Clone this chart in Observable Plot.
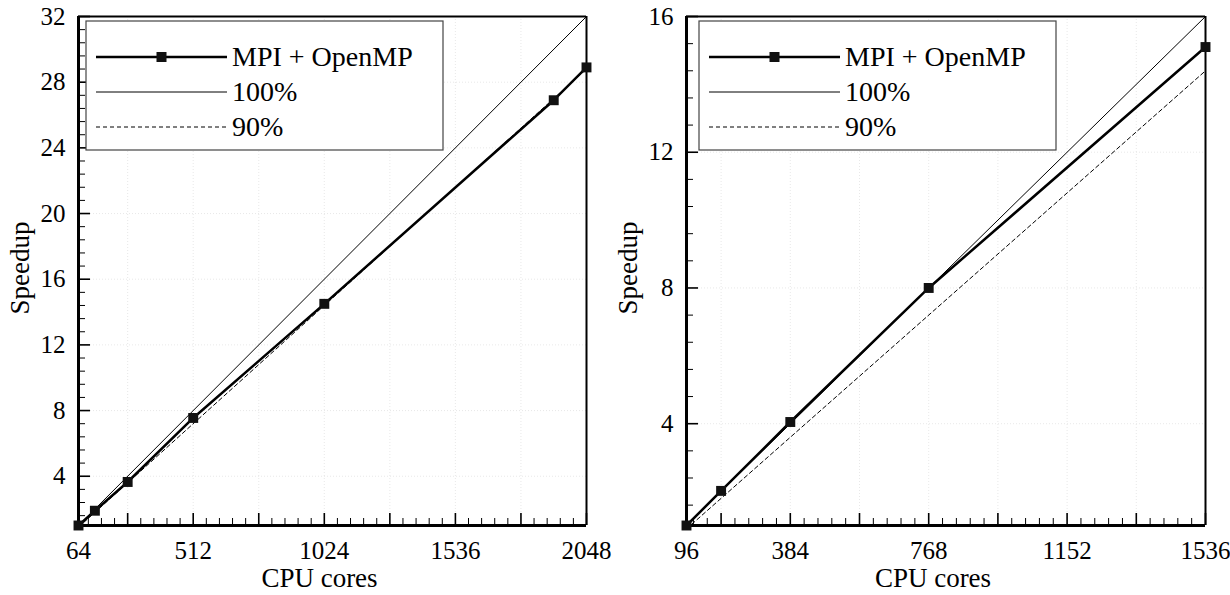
<!DOCTYPE html>
<html>
<head>
<meta charset="utf-8">
<script src="https://cdn.jsdelivr.net/npm/d3@7"></script>
<script src="https://cdn.jsdelivr.net/npm/@observablehq/plot@0.6"></script>
<style>
  html, body { margin: 0; padding: 0; background: #fff; }
  #wrap { display: flex; width: 1230px; height: 595px; }
  #wrap svg, #wrap svg text { font-family: "Liberation Serif", "Times New Roman", serif !important; }
</style>
</head>
<body>
<div id="wrap"></div>
<script>
// ---------- data ----------
const leftCores = [64, 128, 256, 512, 1024, 1920, 2048];
const leftSpeedup = [1, 1.9, 3.65, 7.55, 14.5, 26.9, 28.9];
const leftIdealCores = [64, 2048];
const leftIdeal100 = [1, 32];
const leftIdeal90 = [0.9, 28.8];
const leftXTicks = [256, 512, 768, 1024, 1280, 1536, 1792, 2048];
const leftXLabels = [64, 512, 1024, 1536, 2048];
const leftYTicks = [4, 8, 12, 16, 20, 24, 28, 32];

const rightCores = [96, 192, 384, 768, 1536];
const rightSpeedup = [1, 2.02, 4.05, 8, 15.1];
const rightIdealCores = [96, 1536];
const rightIdeal100 = [1, 16];
const rightIdeal90 = [0.9, 14.4];
const rightXTicks = [192, 384, 576, 768, 960, 1152, 1344, 1536];
const rightXLabels = [96, 384, 768, 1152, 1536];
const rightYTicks = [4, 8, 12, 16];

const legendLabels = ["MPI + OpenMP", "100%", "90%"];
const xTitle = "CPU cores";
const yTitle = "Speedup";

const FONT = "'Liberation Serif', 'Times New Roman', serif";

function minorTicks(step, lo, hi) {
  const out = [];
  for (let i = 1; i * step / 5 < hi + 1e-9; i++) {
    if (i % 5 === 0) continue;
    const v = i * step / 5;
    if (v > lo + 1e-9) out.push(v);
  }
  return out;
}

function panel(cfg) {
  const W = 615, H = 595, mt = 16, mb = 70;
  const innerW = W - cfg.ml - cfg.mr, innerH = H - mt - mb;
  const [x0, x1] = cfg.xDomain, [y0, y1] = cfg.yDomain;
  const series = cfg.cores.map((c, i) => ({c, s: cfg.speedup[i]}));
  const i100 = cfg.idealCores.map((c, i) => ({c, s: cfg.ideal100[i]}));
  const i90 = cfg.idealCores.map((c, i) => ({c, s: cfg.ideal90[i]}));
  const xMinor = minorTicks(cfg.xStep, x0, x1);
  const yMinor = minorTicks(4, y0, y1);

  const svg = Plot.plot({
    width: W, height: H,
    marginLeft: cfg.ml, marginRight: cfg.mr, marginTop: mt, marginBottom: mb,
    style: {fontFamily: FONT, color: "black", background: "white", overflow: "visible"},
    x: {domain: cfg.xDomain, axis: null},
    y: {domain: cfg.yDomain, axis: null},
    marks: [
      Plot.ruleX(cfg.xTicks.filter(d => d < x1), {x: d => d, stroke: "#e2e2e2", strokeWidth: 0.8, strokeDasharray: "1,2"}),
      Plot.ruleY(cfg.yTicks.filter(d => d < y1), {y: d => d, stroke: "#e2e2e2", strokeWidth: 0.8, strokeDasharray: "1,2"}),
      Plot.tickX(cfg.xTicks, {x: d => d, insetTop: innerH - 12, stroke: "black", strokeWidth: 1.6}),
      Plot.tickX(xMinor, {x: d => d, insetTop: innerH - 7, stroke: "black", strokeWidth: 1}),
      Plot.tickY(cfg.yTicks, {y: d => d, insetRight: innerW - 12, stroke: "black", strokeWidth: 1.6}),
      Plot.tickY(yMinor, {y: d => d, insetRight: innerW - 7, stroke: "black", strokeWidth: 1}),
      Plot.ruleX([x1], {stroke: "black", strokeWidth: 2}),
      Plot.ruleY([y1], {stroke: "black", strokeWidth: 2}),
      Plot.ruleX([x0], {stroke: "black", strokeWidth: 3}),
      Plot.ruleY([y0], {stroke: "black", strokeWidth: 3}),
      Plot.line(i100, {x: "c", y: "s", stroke: "black", strokeWidth: 1, clip: true}),
      Plot.line(i90, {x: "c", y: "s", stroke: "black", strokeWidth: 1, strokeDasharray: "4,3", clip: true}),
      Plot.line(series, {x: "c", y: "s", stroke: "black", strokeWidth: 2.5}),
      Plot.dot(series, {x: "c", y: "s", symbol: "square", r: 5.6, fill: "#111", stroke: "none"}),
      Plot.text(cfg.xLabels, {x: d => d, y: y0, dy: 33, lineAnchor: "bottom", textAnchor: "middle", text: d => String(d), fontSize: 25, fontFamily: FONT, fill: "black"}),
      Plot.text(cfg.yTicks, {x: x0, y: d => d, dx: -13, textAnchor: "end", text: d => String(d), fontSize: 25, fontFamily: FONT, fill: "black"}),
      Plot.text([xTitle], {frameAnchor: "bottom", dx: -13, dy: 61, lineAnchor: "bottom", textAnchor: "middle", text: d => d, fontSize: 27, fontFamily: FONT, fill: "black"}),
      Plot.text([yTitle], {frameAnchor: "left", dx: -58, dy: -3, rotate: -90, textAnchor: "middle", lineAnchor: "middle", text: d => d, fontSize: 27, fontFamily: FONT, fill: "black"})
    ]
  });

  const g = d3.select(svg).append("g").attr("text-anchor", "start");
  const bx = cfg.legendX, by = 21, bw = 357, bh = 129;
  g.append("rect").attr("x", bx).attr("y", by).attr("width", bw).attr("height", bh)
    .attr("fill", "white").attr("stroke", "#444").attr("stroke-width", 1.2);
  const rows = [57, 92, 127];
  const lx0 = bx + 10, lx1 = bx + 141, tx = bx + 146;
  legendLabels.forEach((lab, i) => {
    const line = g.append("line").attr("x1", lx0).attr("x2", lx1).attr("y1", rows[i]).attr("y2", rows[i])
      .attr("stroke", "black");
    if (i === 0) line.attr("stroke-width", 2.5);
    if (i === 1) line.attr("stroke-width", 1);
    if (i === 2) line.attr("stroke-width", 1).attr("stroke-dasharray", "4,3");
    if (i === 0) g.append("rect").attr("x", (lx0 + lx1) / 2 - 5).attr("y", rows[i] - 5).attr("width", 10).attr("height", 10).attr("fill", "#111");
    g.append("text").attr("x", tx).attr("y", rows[i] + 9).attr("font-size", 28).attr("fill", "black")
      .attr("text-anchor", "start").attr("font-family", FONT).text(lab);
  });
  return svg;
}

const wrap = document.getElementById("wrap");
wrap.appendChild(panel({
  ml: 78, mr: 29, xDomain: [64, 2048], yDomain: [1, 32], xStep: 256,
  cores: leftCores, speedup: leftSpeedup, idealCores: leftIdealCores, ideal100: leftIdeal100, ideal90: leftIdeal90,
  xTicks: leftXTicks, xLabels: leftXLabels, yTicks: leftYTicks, legendX: 86
}));
wrap.appendChild(panel({
  ml: 71, mr: 25, xDomain: [96, 1536], yDomain: [1, 16], xStep: 192,
  cores: rightCores, speedup: rightSpeedup, idealCores: rightIdealCores, ideal100: rightIdeal100, ideal90: rightIdeal90,
  xTicks: rightXTicks, xLabels: rightXLabels, yTicks: rightYTicks, legendX: 84
}));
</script>
</body>
</html>
